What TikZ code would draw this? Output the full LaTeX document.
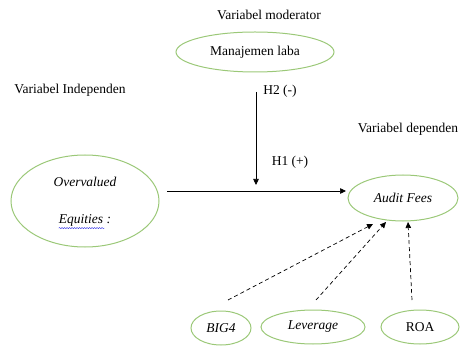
\documentclass[tikz,border=0pt]{standalone}
\usepackage{fontspec}
\setmainfont{Liberation Serif}
\usetikzlibrary{arrows.meta,decorations.pathmorphing,shapes.geometric}
\definecolor{ovalgreen}{RGB}{155,200,120}
\definecolor{spellblue}{RGB}{60,60,230}
\begin{document}
\begin{tikzpicture}[x=1pt,y=-1pt,
  oval/.style={draw=ovalgreen,line width=1pt,ellipse,inner sep=0pt},
  txt/.style={inner sep=0pt,font=\fontsize{13.5pt}{16pt}\selectfont},
  arr/.style={line width=0.7pt,-{Triangle[length=6pt,width=5.5pt]}},
  darr/.style={arr,dash pattern=on 4pt off 3pt}]
\useasboundingbox (0,0) rectangle (462,347);

% headings
\node[txt] (tmod) at (269,15) {Variabel moderator};
\node[txt] (tind) at (70,90) {Variabel Independen};
\node[txt] (tdep) at (408,129) {Variabel dependen};
\node[txt] (h2) at (280,91) {H2 (-)};
\node[txt] (h1) at (290,162) {H1 (+)};

% variables
\node[oval,minimum width=158pt,minimum height=40pt,txt] (ml) at (255,52) {Manajemen laba};
\node[oval,minimum width=148pt,minimum height=92pt] (ov) at (85,201) {};
\node[txt] (ov1) at (85,182) {\itshape Overvalued};
\node[txt] (ov2) at (85,220) {\itshape Equities :};
\draw[spellblue,line width=0.4pt,decorate,decoration={snake,amplitude=0.6pt,segment length=2.5pt}]
  ([yshift=-2pt]ov2.south west) -- ([yshift=-2pt,xshift=-7pt]ov2.south east);
\node[oval,minimum width=110pt,minimum height=46pt,txt] (af) at (403,198) {\itshape Audit Fees};
\node[oval,minimum width=60pt,minimum height=34pt,txt] (big) at (221,328) {\itshape BIG4};
\node[oval,minimum width=104pt,minimum height=34pt,txt] (lev) at (313,327) {\itshape Leverage};
\node[oval,minimum width=78pt,minimum height=34pt,txt] (roa) at (420,327) {ROA};

% connectors
\coordinate (vtop) at (256,92);
\coordinate (vbot) at (256,185);
\coordinate (hstart) at (167,191);
\coordinate (hend) at (346,191);
\draw[arr] (vtop) -- (vbot);
\draw[arr] (hstart) -- (hend);

\coordinate (d1s) at (228,300);
\coordinate (d1e) at (373,224);
\coordinate (d2s) at (316,300);
\coordinate (d2e) at (386,222);
\coordinate (d3s) at (412,300);
\coordinate (d3e) at (408,222);
\draw[darr] (d1s) -- (d1e);
\draw[darr] (d2s) -- (d2e);
\draw[darr] (d3s) -- (d3e);
\end{tikzpicture}
\end{document}
